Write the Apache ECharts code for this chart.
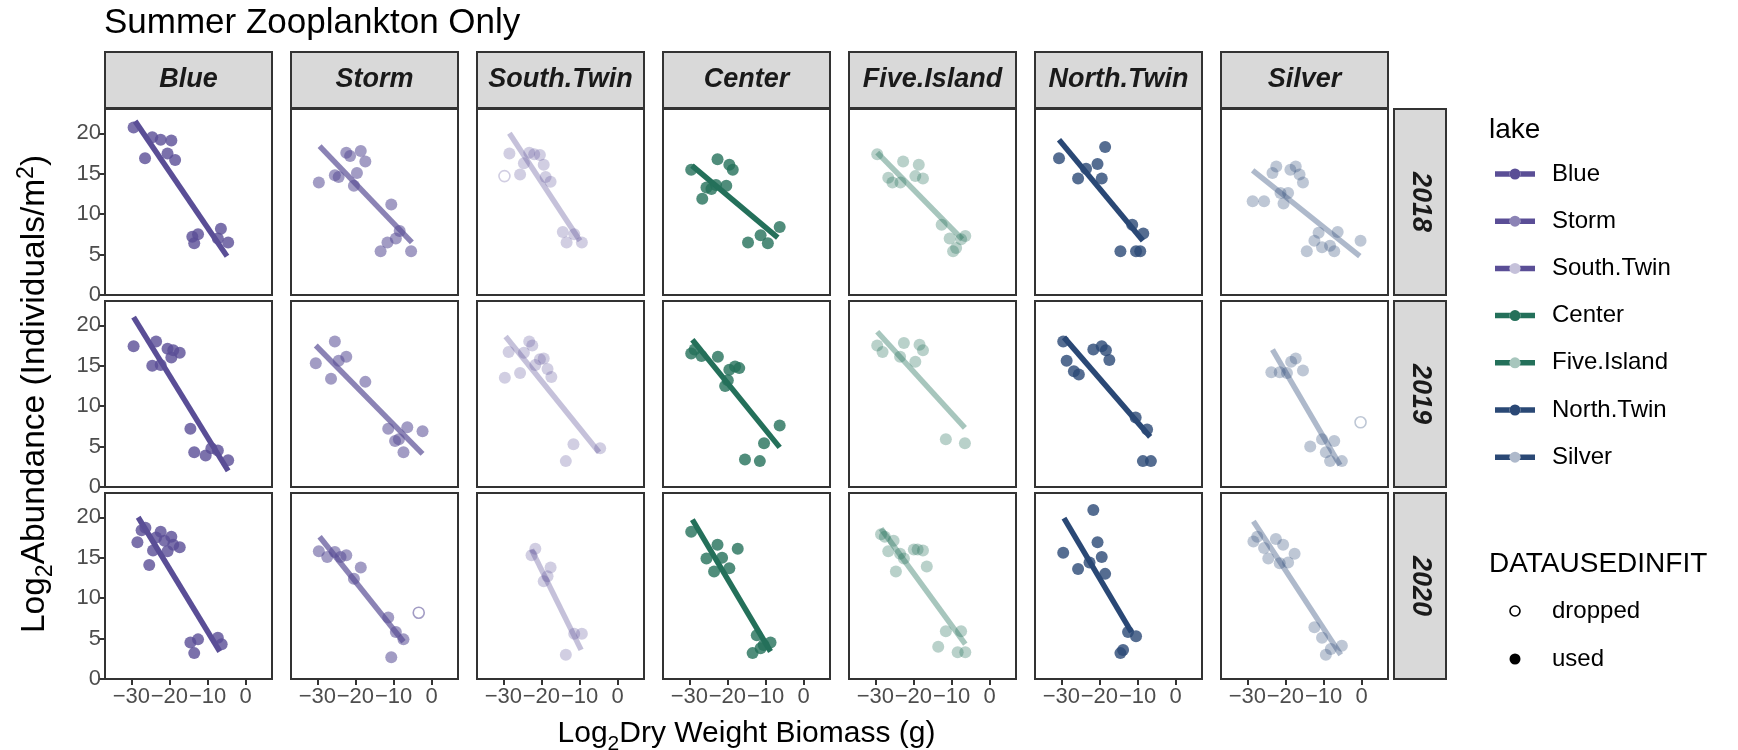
<!DOCTYPE html>
<html>
<head>
<meta charset="utf-8">
<script src="https://cdn.jsdelivr.net/npm/echarts@6/dist/echarts.min.js"></script>
<style>
  html, body { margin: 0; padding: 0; background: #ffffff; }
  #chart { width: 1738px; height: 750px; }
</style>
</head>
<body>
<div id="chart"></div>
<script>
// ---- data -------------------------------------------------------------
const lakes = ['Blue', 'Storm', 'South.Twin', 'Center', 'Five.Island', 'North.Twin', 'Silver'];
const years = ['2018', '2019', '2020'];
const xTicks = [-30, -20, -10, 0];
const yTicks = [0, 5, 10, 15, 20];
const usageLevels = ['dropped', 'used'];

// [log2 dry weight biomass, log2 abundance] for each year (2018, 2019, 2020)
const bluePts = [
  [[-29.4,20.7],[-26.4,16.9],[-24.5,19.5],[-22.3,19.2],[-19.5,19.1],[-20.5,17.5],[-18.5,16.7],[-14.0,7.2],[-13.5,6.4],[-12.5,7.5],[-6.5,8.2],[-7.3,7.0],[-4.6,6.5]],
  [[-29.4,17.4],[-23.5,18.0],[-24.5,15.0],[-22.3,15.1],[-20.5,17.1],[-19.0,16.9],[-19.5,16.0],[-17.3,16.6],[-14.5,7.2],[-13.5,4.3],[-10.5,3.9],[-9.0,4.8],[-7.3,4.5],[-4.6,3.3]],
  [[-28.4,16.9],[-27.3,18.4],[-26.3,18.7],[-25.3,14.1],[-24.3,15.9],[-23.5,17.5],[-22.3,18.2],[-21.3,17.1],[-20.5,15.8],[-19.5,17.6],[-19.0,16.6],[-17.3,16.3],[-14.5,4.5],[-13.5,3.2],[-12.5,4.9],[-7.3,5.1],[-6.3,4.3]]
];
const stormPts = [
  [[-29.6,13.9],[-25.4,14.8],[-24.4,14.6],[-22.4,17.6],[-21.4,17.2],[-18.6,17.8],[-17.4,16.5],[-19.6,15.1],[-20.4,13.5],[-10.6,11.2],[-8.4,7.9],[-9.4,7.0],[-11.6,6.5],[-13.4,5.4],[-5.4,5.4]],
  [[-30.4,15.3],[-26.4,13.4],[-25.4,18.0],[-24.4,15.6],[-22.4,16.1],[-17.4,13.0],[-11.4,7.2],[-6.4,7.4],[-9.6,5.7],[-8.6,5.9],[-7.4,4.3],[-2.4,6.9]],
  [[-29.6,15.8],[-27.4,15.1],[-25.4,15.7],[-23.9,15.1],[-22.4,15.3],[-18.6,13.8],[-20.4,12.4],[-11.4,7.6],[-9.4,5.8],[-7.4,4.9],[-10.6,2.7]]
];
const southTwinPts = [
  [[-28.4,17.5],[-25.6,14.9],[-24.6,16.3],[-23.2,17.6],[-21.9,17.4],[-20.4,17.3],[-19.4,16.1],[-18.9,14.6],[-17.6,14.0],[-14.4,7.8],[-13.4,6.5],[-11.4,7.5],[-9.4,6.5]],
  [[-29.6,13.5],[-28.6,16.7],[-25.6,14.1],[-24.6,16.6],[-23.2,18.0],[-22.4,17.5],[-21.6,15.1],[-20.4,15.8],[-19.4,15.9],[-18.4,14.6],[-17.4,13.6],[-11.6,5.3],[-13.6,3.2],[-4.6,4.8]],
  [[-22.6,15.3],[-21.6,16.1],[-19.4,12.1],[-18.4,12.7],[-17.6,13.8],[-13.6,3.0],[-11.4,5.6],[-9.4,5.6]]
];
const centerPts = [
  [[-29.5,15.5],[-22.6,16.8],[-19.5,16.1],[-18.6,15.5],[-25.5,13.3],[-24.2,13.1],[-23.0,13.6],[-20.3,13.5],[-26.6,11.9],[-6.3,8.4],[-11.3,7.4],[-9.4,6.4],[-14.6,6.5]],
  [[-29.5,16.5],[-28.6,17.0],[-26.8,16.2],[-22.5,16.1],[-19.5,14.5],[-16.9,14.7],[-18.0,14.9],[-19.9,13.2],[-20.6,12.5],[-6.3,7.6],[-10.4,5.4],[-15.4,3.4],[-11.5,3.2]],
  [[-29.5,18.2],[-22.6,16.6],[-17.3,16.1],[-25.5,14.9],[-21.4,15.0],[-23.5,13.3],[-19.5,13.7],[-12.3,5.4],[-8.7,4.5],[-11.3,3.8],[-13.4,3.2],[-10.5,4.2]]
];
const fiveIslandPts = [
  [[-29.5,17.4],[-22.7,16.5],[-18.6,16.1],[-26.6,14.5],[-25.5,13.9],[-23.4,13.9],[-19.5,14.7],[-17.5,14.4],[-12.6,8.7],[-10.5,7.0],[-8.8,5.8],[-7.5,6.9],[-6.4,7.3],[-9.6,5.4]],
  [[-29.5,17.5],[-28.1,16.7],[-22.5,17.8],[-23.5,16.1],[-18.4,17.6],[-17.5,16.9],[-19.5,15.5],[-11.5,5.9],[-6.5,5.4]],
  [[-28.5,17.9],[-27.5,17.6],[-25.2,17.1],[-26.6,15.8],[-23.5,15.5],[-22.5,14.9],[-19.9,16.0],[-18.9,16.0],[-17.5,15.9],[-24.6,13.3],[-16.5,13.9],[-11.5,5.9],[-7.5,5.9],[-13.5,4.0],[-8.4,3.3],[-6.4,3.3]]
];
const northTwinPts = [
  [[-30.6,16.9],[-25.6,14.4],[-23.5,15.6],[-20.5,16.2],[-18.5,18.3],[-19.4,14.4],[-11.4,8.7],[-8.5,7.6],[-14.5,5.4],[-10.4,5.4],[-9.3,5.4]],
  [[-29.5,18.0],[-28.6,15.6],[-26.7,14.3],[-25.4,13.9],[-21.6,17.0],[-19.4,17.4],[-18.3,16.9],[-17.4,15.7],[-10.5,8.6],[-7.5,7.1],[-8.6,3.2],[-6.5,3.2]],
  [[-21.6,20.9],[-29.5,15.6],[-25.6,13.6],[-22.6,14.4],[-20.5,16.9],[-19.4,15.1],[-18.5,13.0],[-12.5,5.8],[-10.4,5.3],[-13.8,3.6],[-14.5,3.2]]
];
const silverPts = [
  [[-28.6,11.6],[-25.6,11.6],[-23.4,15.1],[-22.4,15.9],[-18.7,15.5],[-17.3,15.9],[-16.3,14.9],[-15.4,13.9],[-21.3,12.6],[-19.3,12.6],[-20.5,11.3],[-11.3,7.7],[-6.3,7.8],[-12.4,6.7],[-10.4,5.9],[-8.3,6.1],[-7.2,5.4],[-14.4,5.4],[-0.3,6.7]],
  [[-23.7,14.2],[-21.5,14.2],[-19.6,14.1],[-18.5,15.5],[-17.3,15.9],[-15.4,14.4],[-13.5,5.0],[-10.4,5.9],[-7.2,5.7],[-9.4,4.3],[-8.3,3.2],[-5.2,3.2]],
  [[-28.4,17.0],[-27.4,17.6],[-25.6,16.2],[-22.5,17.3],[-20.6,16.6],[-24.5,14.9],[-21.5,14.3],[-19.3,14.4],[-17.6,15.5],[-12.4,6.4],[-10.4,5.1],[-8.1,3.7],[-9.4,3.0],[-5.2,4.1]]
];

// points left out of the fit: [lake, year, x, y]
const droppedPts = [
  ['South.Twin', '2018', -29.7, 14.7],
  ['Silver', '2019', -0.3, 8.0],
  ['Storm', '2020', -3.4, 8.2]
];

// linear fit segments [x start, y start, x end, y end] for each year
const blueFit = [[-29.0,21.5,-4.9,4.8],[-29.4,21.0,-4.6,2.0],[-28.2,20.0,-6.8,3.4]];
const stormFit = [[-29.4,18.4,-5.2,6.5],[-30.4,17.5,-2.4,4.1],[-29.4,17.6,-7.4,4.6]];
const southTwinFit = [[-28.4,20.0,-9.9,6.7],[-29.4,18.6,-4.9,4.3],[-22.6,16.0,-9.6,3.6]];
const centerFit = [[-29.3,16.0,-6.8,7.1],[-29.2,18.2,-6.3,4.9],[-29.2,19.7,-8.7,3.4]];
const fiveIslandFit = [[-29.5,17.6,-7.2,6.9],[-29.5,19.2,-6.5,7.3],[-28.5,18.6,-6.4,4.3]];
const northTwinFit = [[-30.6,19.2,-8.6,6.7],[-29.3,18.5,-6.7,6.2],[-29.3,19.9,-11.6,5.8]];
const silverFit = [[-28.6,15.4,-0.5,4.8],[-23.4,17.0,-5.7,2.7],[-28.4,19.5,-5.5,3.0]];

const lakePoints = [bluePts, stormPts, southTwinPts, centerPts, fiveIslandPts, northTwinPts, silverPts];
const lakeFits = [blueFit, stormFit, southTwinFit, centerFit, fiveIslandFit, northTwinFit, silverFit];

// ---- styling ------------------------------------------------------------
const FONT = "'Liberation Sans', Arial, Helvetica, sans-serif";
const lakeColor = ['#5A4E96', '#5A4E96', '#5A4E96', '#24705A', '#24705A', '#2A4875', '#2A4875'];
const lakeAlpha = [1, 0.7, 0.35, 1, 0.4, 1, 0.38];

function rgba(hex, a) {
  const n = parseInt(hex.slice(1), 16);
  return 'rgba(' + ((n >> 16) & 255) + ',' + ((n >> 8) & 255) + ',' + (n & 255) + ',' + a + ')';
}

// panel layout
const PANEL_LEFT = 105, PANEL_TOP = 109, PANEL_W = 167, PANEL_H = 186;
const COL_STEP = 186, ROW_STEP = 192;
const X_RANGE = [-36.9, 6.9], Y_RANGE = [0, 23];

const grids = [], xAxes = [], yAxes = [], series = [], graphics = [];

const minus = v => String(v).replace('-', '\u2212');

years.forEach((yr, yi) => {
  lakes.forEach((lake, li) => {
    const g = yi * lakes.length + li;
    const left = PANEL_LEFT + li * COL_STEP;
    const top = PANEL_TOP + yi * ROW_STEP;
    grids.push({
      left: left, top: top, width: PANEL_W, height: PANEL_H,
      show: true, borderColor: '#333333', borderWidth: 2, backgroundColor: '#ffffff',
      containLabel: false, outerBoundsMode: 'none'
    });
    const bottomRow = yi === years.length - 1;
    const firstCol = li === 0;
    const xa = {
      type: 'value', gridIndex: g, min: X_RANGE[0], max: X_RANGE[1], position: 'bottom',
      axisLine: { show: false, onZero: false }, splitLine: { show: false },
      axisTick: { show: bottomRow, customValues: xTicks, length: 6, lineStyle: { color: '#333333', width: 2 } },
      axisLabel: { show: bottomRow, customValues: xTicks, formatter: minus, fontSize: 22, color: '#4D4D4D', fontFamily: FONT, margin: 7 }
    };
    if (bottomRow && li === 3) {
      xa.name = '{a|Log}{s|2}{a|Dry Weight Biomass (g)}';
      xa.nameLocation = 'middle';
      xa.nameGap = 40;
      xa.nameTextStyle = {
        rich: {
          a: { fontSize: 30, color: '#000000', fontFamily: FONT, lineHeight: 33, verticalAlign: 'top' },
          s: { fontSize: 21, color: '#000000', fontFamily: FONT, lineHeight: 21, verticalAlign: 'top', padding: [15, 0, 0, 0] }
        }
      };
    }
    xAxes.push(xa);
    const ya = {
      type: 'value', gridIndex: g, min: Y_RANGE[0], max: Y_RANGE[1], position: 'left',
      axisLine: { show: false, onZero: false }, splitLine: { show: false },
      axisTick: { show: firstCol, customValues: yTicks, length: 6, lineStyle: { color: '#333333', width: 2 } },
      axisLabel: { show: firstCol, customValues: yTicks, fontSize: 22, color: '#4D4D4D', fontFamily: FONT, margin: 4 }
    };
    if (firstCol && yi === 1) {
      ya.name = '{a|Log}{s|2}{a|Abundance (Individuals/m}{p|2}{a|)}';
      ya.nameLocation = 'middle';
      ya.nameRotate = 90;
      ya.nameGap = 54;
      ya.nameTextStyle = {
        rich: {
          a: { fontSize: 33.5, color: '#000000', fontFamily: FONT, lineHeight: 36, verticalAlign: 'top', padding: [3, 0, 0, 0] },
          s: { fontSize: 23, color: '#000000', fontFamily: FONT, lineHeight: 23, verticalAlign: 'top', padding: [19, 0, 0, 0] },
          p: { fontSize: 23, color: '#000000', fontFamily: FONT, lineHeight: 23, verticalAlign: 'top', padding: [0, 0, 0, 0] }
        }
      };
    }
    yAxes.push(ya);

    const col = lakeColor[li], a = lakeAlpha[li];
    const pts = lakePoints[li][yi];
    const fit = lakeFits[li][yi];
    series.push({
      type: 'scatter', name: lake, xAxisIndex: g, yAxisIndex: g,
      data: pts, symbol: 'circle', symbolSize: 12, silent: true, z: 3,
      itemStyle: { color: rgba(col, a), borderWidth: 0 }
    });
    series.push({
      type: 'line', name: lake, xAxisIndex: g, yAxisIndex: g,
      data: [[fit[0], fit[1]], [fit[2], fit[3]]],
      symbol: 'none', silent: true, z: 4,
      lineStyle: { color: rgba(col, a), width: 5.5, cap: 'butt' }
    });
    const drops = droppedPts.filter(d => d[0] === lake && d[1] === yr).map(d => [d[2], d[3]]);
    if (drops.length) {
      series.push({
        type: 'scatter', name: lake + ' dropped', xAxisIndex: g, yAxisIndex: g,
        data: drops, symbol: 'circle', symbolSize: 11, silent: true, z: 5,
        itemStyle: { color: 'rgba(255,255,255,0)', borderColor: rgba(col, a), borderWidth: 1.6 }
      });
    }
  });
});

// facet strips: lakes across the top
lakes.forEach((lake, li) => {
  const left = PANEL_LEFT + li * COL_STEP;
  graphics.push({ type: 'rect', shape: { x: left, y: 52, width: PANEL_W, height: 56 },
    style: { fill: '#D9D9D9', stroke: '#333333', lineWidth: 2 }, silent: true });
  graphics.push({ type: 'text', x: left + PANEL_W / 2, y: 80,
    style: { text: lake, align: 'center', verticalAlign: 'middle', textAlign: 'center', textVerticalAlign: 'middle',
      font: 'italic bold 27px ' + FONT, fill: '#1A1A1A' }, silent: true });
});
// facet strips: years down the right side
years.forEach((yr, yi) => {
  const top = PANEL_TOP + yi * ROW_STEP;
  graphics.push({ type: 'rect', shape: { x: 1394, y: top, width: 52, height: PANEL_H },
    style: { fill: '#D9D9D9', stroke: '#333333', lineWidth: 2 }, silent: true });
  graphics.push({ type: 'text', x: 1420, y: top + PANEL_H / 2, rotation: -Math.PI / 2,
    style: { text: yr, align: 'center', verticalAlign: 'middle', textAlign: 'center', textVerticalAlign: 'middle',
      font: 'italic bold 27px ' + FONT, fill: '#1A1A1A' }, silent: true });
});

// legend: lake
const LEG_X = 1489, KEY_X0 = 1495, KEY_X1 = 1535, LABEL_X = 1552;
graphics.push({ type: 'text', x: LEG_X, y: 130,
  style: { text: 'lake', align: 'left', verticalAlign: 'middle', textAlign: 'left', textVerticalAlign: 'middle',
    font: '28px ' + FONT, fill: '#000000' }, silent: true });
lakes.forEach((lake, li) => {
  const y = 174 + li * 47.2;
  graphics.push({ type: 'line', shape: { x1: KEY_X0, y1: y, x2: KEY_X1, y2: y },
    style: { stroke: lakeColor[li], lineWidth: 5.5 }, silent: true });
  graphics.push({ type: 'circle', shape: { cx: (KEY_X0 + KEY_X1) / 2, cy: y, r: 5.5 },
    style: { fill: '#FFFFFF' }, silent: true });
  graphics.push({ type: 'circle', shape: { cx: (KEY_X0 + KEY_X1) / 2, cy: y, r: 5.5 },
    style: { fill: rgba(lakeColor[li], lakeAlpha[li]) }, silent: true });
  graphics.push({ type: 'text', x: LABEL_X, y: y,
    style: { text: lake, align: 'left', verticalAlign: 'middle', textAlign: 'left', textVerticalAlign: 'middle',
      font: '24px ' + FONT, fill: '#000000' }, silent: true });
});

// legend: data used in fit
graphics.push({ type: 'text', x: LEG_X, y: 564,
  style: { text: 'DATAUSEDINFIT', align: 'left', verticalAlign: 'middle', textAlign: 'left', textVerticalAlign: 'middle',
    font: '28px ' + FONT, fill: '#000000' }, silent: true });
usageLevels.forEach((u, ui) => {
  const y = 611 + ui * 48;
  graphics.push({ type: 'circle', shape: { cx: 1515, cy: y, r: u === 'used' ? 5.5 : 5 },
    style: u === 'used' ? { fill: '#000000' } : { fill: 'none', stroke: '#000000', lineWidth: 1.6 }, silent: true });
  graphics.push({ type: 'text', x: LABEL_X, y: y,
    style: { text: u, align: 'left', verticalAlign: 'middle', textAlign: 'left', textVerticalAlign: 'middle',
      font: '24px ' + FONT, fill: '#000000' }, silent: true });
});

const chart = echarts.init(document.getElementById('chart'), null, { renderer: 'canvas' });
chart.setOption({
  animation: false,
  backgroundColor: '#ffffff',
  title: {
    text: 'Summer Zooplankton Only', left: 104, top: 6, padding: 0,
    textStyle: { fontSize: 35, fontWeight: 'normal', color: '#000000', fontFamily: FONT }
  },
  tooltip: { show: false },
  grid: grids,
  xAxis: xAxes,
  yAxis: yAxes,
  series: series,
  graphic: { elements: graphics }
});
</script>
</body>
</html>
